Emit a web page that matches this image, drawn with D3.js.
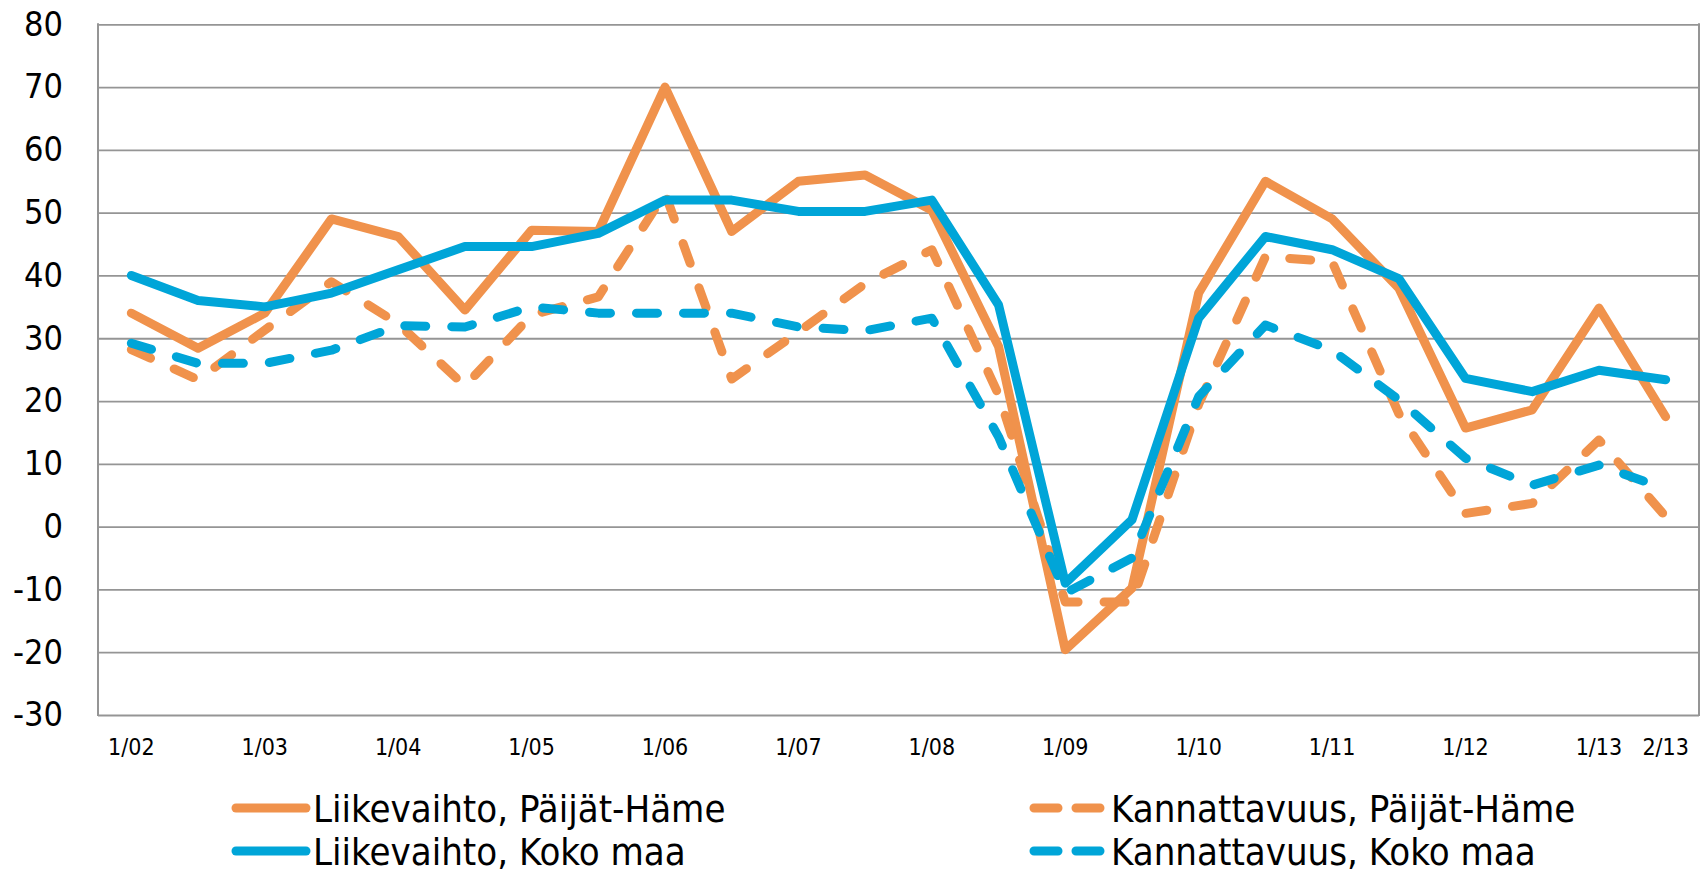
<!DOCTYPE html>
<html>
<head>
<meta charset="utf-8">
<script src="https://cdn.jsdelivr.net/npm/d3@7"></script>
<style>
  html, body { margin: 0; padding: 0; background: #fff; }
  svg { display: block; }
  text { font-family: "DejaVu Sans Condensed", "DejaVu Sans", sans-serif; fill: #000; }
</style>
</head>
<body>
<svg id="chart" width="1708" height="875"></svg>
<script>
// ---- Data ----
const categories = ["1/02","2/02","1/03","2/03","1/04","2/04","1/05","2/05","1/06","2/06","1/07","2/07",
                    "1/08","2/08","1/09","2/09","1/10","2/10","1/11","2/11","1/12","2/12","1/13","2/13"];
const xTickLabels = ["1/02","1/03","1/04","1/05","1/06","1/07","1/08","1/09","1/10","1/11","1/12","1/13","2/13"];
const yTickValues = [-30,-20,-10,0,10,20,30,40,50,60,70,80];

const liikevaihtoPH  = [34, 28.4, 34, 49, 46.2, 34.5, 47.2, 47, 70, 47, 55, 56, 50.4, 28.7, -19.6, -9.8, 37.2, 55, 49, 38, 15.7, 18.6, 34.8, 17.5];
const kannattavuusPH = [28.2, 23.4, 31.3, 39, 32.3, 22.4, 33.7, 36.6, 53.1, 23.5, 31, 38.7, 44.1, 21, -12, -12, 19.5, 43, 42.2, 18, 2.1, 3.7, 13.8, 1.6];
const liikevaihtoKM  = [40, 36, 35, 37.2, 40.9, 44.6, 44.6, 46.7, 52, 52, 50.2, 50.2, 52, 35.3, -9, 1.1, 33.2, 46.2, 44.1, 39.5, 23.6, 21.5, 24.9, 23.4];
const kannattavuusKM = [29.2, 26, 26, 28.1, 32, 31.8, 35, 34, 34, 34, 31.8, 31.2, 33.2, 14.3, -10.6, -5, 20.7, 32.1, 28.1, 20.2, 10.9, 6.6, 9.8, 6];

const seriesNames = ["Liikevaihto, Päijät-Häme", "Kannattavuus, Päijät-Häme", "Liikevaihto, Koko maa", "Kannattavuus, Koko maa"];

// ---- Styles ----
const ORANGE = "#F0924C";
const BLUE = "#00A5D8";
const series = [
  { name: seriesNames[0], values: liikevaihtoPH,  color: ORANGE, dashed: false },
  { name: seriesNames[1], values: kannattavuusPH, color: ORANGE, dashed: true  },
  { name: seriesNames[2], values: liikevaihtoKM,  color: BLUE,   dashed: false },
  { name: seriesNames[3], values: kannattavuusKM, color: BLUE,   dashed: true  }
];

const plotL = 98, plotR = 1699, plotT = 24.3, plotB = 715;
const svg = d3.select("#chart");
svg.append("rect").attr("width", 1708).attr("height", 875).attr("fill", "#fff");

const x = d3.scaleBand().domain(categories).range([plotL, plotR]).padding(0);
const y = d3.scaleLinear().domain([-30, 80]).range([plotB, plotT]);
const GRID = "#959595";
const FONT = '"DejaVu Sans Condensed", "DejaVu Sans", sans-serif';

// y axis with gridlines
const yAxis = svg.append("g").attr("transform", `translate(${plotL},0)`)
  .call(d3.axisLeft(y).tickValues(yTickValues).tickFormat(d => String(d))
    .tickSize(-(plotR - plotL)).tickPadding(35));
yAxis.select(".domain").remove();
yAxis.selectAll(".tick line").attr("stroke", GRID).attr("stroke-width", 1.8);
yAxis.selectAll(".tick text").attr("font-size", 34).attr("fill", "#000").style("font-family", FONT);

// left axis line and right border
svg.append("line").attr("x1", plotL).attr("x2", plotL).attr("y1", plotT - 1).attr("y2", plotB + 1)
  .attr("stroke", GRID).attr("stroke-width", 2);
svg.append("line").attr("x1", plotR).attr("x2", plotR).attr("y1", plotT - 1).attr("y2", plotB + 1)
  .attr("stroke", GRID).attr("stroke-width", 2);

// x axis labels
const xAxis = svg.append("g").attr("transform", `translate(0,${plotB})`)
  .call(d3.axisBottom(x).tickValues(xTickLabels).tickSize(0));
xAxis.select(".domain").remove();
xAxis.selectAll(".tick text").attr("y", 32).attr("dy", "0.36em").attr("font-size", 23).attr("fill", "#000")
  .style("font-family", FONT);

// lines
const line = d3.line()
  .x((d, i) => x(categories[i]) + x.bandwidth() / 2)
  .y(d => y(d));

const DASH = "21 26";
const LW = 9;
series.forEach(s => {
  svg.append("path")
    .datum(s.values)
    .attr("d", line)
    .attr("fill", "none")
    .attr("stroke", s.color)
    .attr("stroke-width", LW)
    .attr("stroke-linejoin", "round")
    .attr("stroke-linecap", "round")
    .attr("stroke-dasharray", s.dashed ? DASH : null);
});

// legend
const legendPos = [
  { x: 232, y: 808 }, { x: 1030, y: 808 },
  { x: 232, y: 851 }, { x: 1030, y: 851 }
];
series.forEach((s, i) => {
  const p = legendPos[i];
  const g = svg.append("g").attr("transform", `translate(${p.x},${p.y})`);
  g.append("line").attr("x1", 4).attr("x2", 74).attr("y1", 0).attr("y2", 0)
    .attr("stroke", s.color).attr("stroke-width", LW).attr("stroke-linecap", "round")
    .attr("stroke-dasharray", s.dashed ? "24 18" : null);
  g.append("text").attr("x", 81).attr("y", 0).attr("dy", "0.36em")
    .attr("font-size", 38).style("font-family", FONT).text(s.name);
});
</script>
</body>
</html>
